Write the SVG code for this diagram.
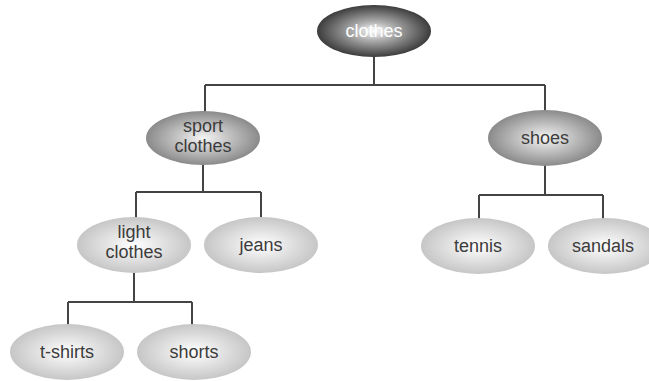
<svg xmlns="http://www.w3.org/2000/svg" width="649" height="381" viewBox="0 0 649 381">
<defs>
<radialGradient id="gDark" cx="50%" cy="50%" r="50%">
<stop offset="0" stop-color="#ffffff"/>
<stop offset="0.35" stop-color="#b0b0b0"/>
<stop offset="1" stop-color="#3c3c3c"/>
</radialGradient>
<radialGradient id="gMid" cx="50%" cy="50%" r="50%">
<stop offset="0" stop-color="#f4f4f4"/>
<stop offset="1" stop-color="#8a8a8a"/>
</radialGradient>
<radialGradient id="gLight" cx="50%" cy="50%" r="50%">
<stop offset="0" stop-color="#ffffff"/>
<stop offset="1" stop-color="#c6c6c6"/>
</radialGradient>
</defs>
<style>
.lbl{font-family:"Liberation Sans",Arial,sans-serif;font-size:18px;fill:#3c3c3c;text-anchor:middle}
.root{fill:#ffffff}
.conn{fill:none;stroke:#444444;stroke-width:2}
</style>
<rect width="649" height="381" fill="#ffffff"/>
<g id="connectors">
<path class="conn" d="M374,56 V85 M205,85 H545 M205,85 V112 M545,85 V112"/>
<path class="conn" d="M203,164 V192 M136,192 H261 M136,192 V219 M261,192 V219"/>
<path class="conn" d="M545,165 V195 M479,195 H603 M479,195 V219 M603,195 V219"/>
<path class="conn" d="M134,272 V302 M68,302 H192 M68,302 V325 M192,302 V325"/>
</g>
<g id="clothes">
<ellipse cx="374" cy="31" rx="57" ry="26" fill="url(#gDark)"/>
<text class="lbl root" x="374" y="37">clothes</text>
</g>
<g id="sport-clothes">
<ellipse cx="203" cy="138" rx="57" ry="27" fill="url(#gMid)"/>
<text class="lbl" x="203" y="132">sport</text>
<text class="lbl" x="203" y="152">clothes</text>
</g>
<g id="shoes">
<ellipse cx="545" cy="138" rx="57" ry="28" fill="url(#gMid)"/>
<text class="lbl" x="545" y="144">shoes</text>
</g>
<g id="light-clothes">
<ellipse cx="134" cy="245" rx="57" ry="28" fill="url(#gLight)"/>
<text class="lbl" x="134" y="238">light</text>
<text class="lbl" x="134" y="258">clothes</text>
</g>
<g id="jeans">
<ellipse cx="261" cy="245" rx="57" ry="28" fill="url(#gLight)"/>
<text class="lbl" x="261" y="251">jeans</text>
</g>
<g id="tennis">
<ellipse cx="478" cy="246" rx="57" ry="28" fill="url(#gLight)"/>
<text class="lbl" x="478" y="252">tennis</text>
</g>
<g id="sandals">
<ellipse cx="605" cy="246" rx="57" ry="28" fill="url(#gLight)"/>
<text class="lbl" x="603" y="252">sandals</text>
</g>
<g id="t-shirts">
<ellipse cx="67" cy="352" rx="57" ry="28" fill="url(#gLight)"/>
<text class="lbl" x="67" y="358">t-shirts</text>
</g>
<g id="shorts">
<ellipse cx="194" cy="352" rx="57" ry="28" fill="url(#gLight)"/>
<text class="lbl" x="194" y="358">shorts</text>
</g>
</svg>
